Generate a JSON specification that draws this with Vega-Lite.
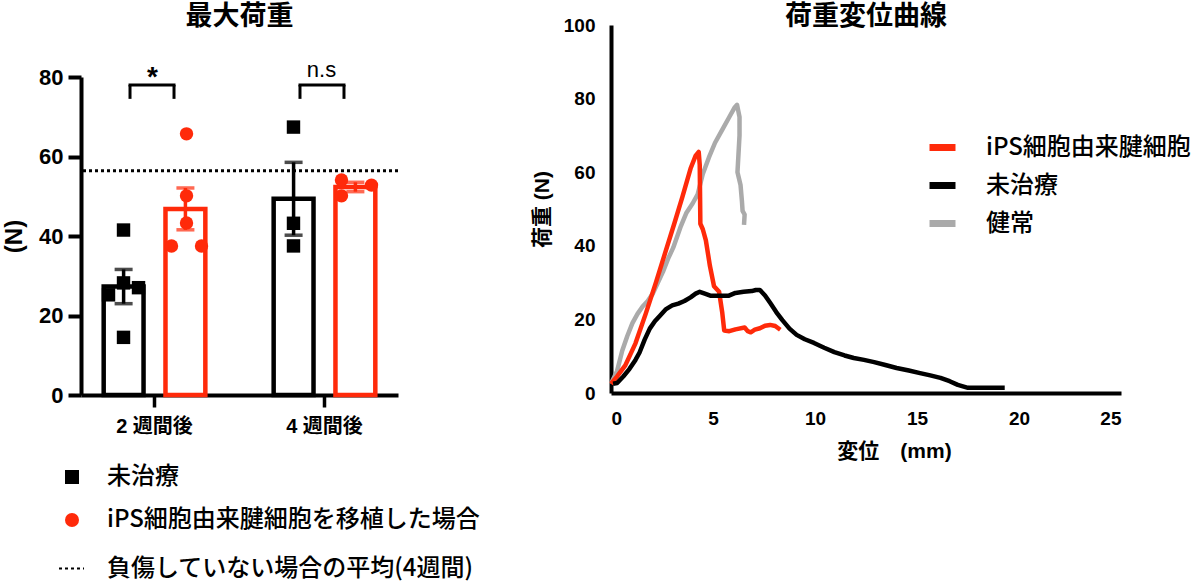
{
  "$schema": "https://vega.github.io/schema/vega-lite/v6.json",
  "background": "white",
  "padding": {"left": 2, "top": 3, "right": 0, "bottom": 0},
  "config": {
    "view": {"stroke": null},
    "font": "Liberation Sans, Noto Sans CJK JP",
    "title": {"fontSize": 27, "fontWeight": "bold", "font": "Noto Sans CJK JP", "color": "black"},
    "axis": {"domainColor": "black", "domainWidth": 4, "tickColor": "black", "tickWidth": 4, "labelColor": "black", "titleColor": "black", "grid": false, "labelFont": "Liberation Sans, Noto Sans CJK JP", "labelFontWeight": "bold", "titleFont": "Liberation Sans, Noto Sans CJK JP", "titleFontWeight": "bold"},
    "legend": {"labelFont": "Noto Sans CJK JP", "labelFontWeight": 500, "labelFontSize": 24, "labelColor": "black", "padding": 0, "labelLimit": 800, "title": null}
  },
  "resolve": {
    "scale": {"color": "independent", "shape": "independent", "strokeDash": "independent"},
    "legend": {"color": "independent", "shape": "independent", "strokeDash": "independent"}
  },
  "datasets": {
    "maxload": [
      {"week": "2 週間後", "series": "未治療", "col": "C", "value": 41.5},
      {"week": "2 週間後", "series": "未治療", "col": "C", "value": 14.5},
      {"week": "2 週間後", "series": "未治療", "col": "L", "value": 25.2},
      {"week": "2 週間後", "series": "未治療", "col": "C", "value": 28.2},
      {"week": "2 週間後", "series": "未治療", "col": "R", "value": 27.0},
      {"week": "2 週間後", "series": "iPS細胞由来腱細胞を移植した場合", "col": "C", "value": 65.7},
      {"week": "2 週間後", "series": "iPS細胞由来腱細胞を移植した場合", "col": "C", "value": 50.1},
      {"week": "2 週間後", "series": "iPS細胞由来腱細胞を移植した場合", "col": "C", "value": 43.3},
      {"week": "2 週間後", "series": "iPS細胞由来腱細胞を移植した場合", "col": "L", "value": 37.5},
      {"week": "2 週間後", "series": "iPS細胞由来腱細胞を移植した場合", "col": "R", "value": 37.5},
      {"week": "4 週間後", "series": "未治療", "col": "C", "value": 67.4},
      {"week": "4 週間後", "series": "未治療", "col": "C", "value": 43.2},
      {"week": "4 週間後", "series": "未治療", "col": "C", "value": 37.5},
      {"week": "4 週間後", "series": "iPS細胞由来腱細胞を移植した場合", "col": "L", "value": 54.1},
      {"week": "4 週間後", "series": "iPS細胞由来腱細胞を移植した場合", "col": "L", "value": 50.1},
      {"week": "4 週間後", "series": "iPS細胞由来腱細胞を移植した場合", "col": "R", "value": 52.8}
    ],
    "reference": [{"label": "負傷していない場合の平均(4週間)", "value": 56.4}],
    "brackets": [
      {"week": "2 週間後", "low": 74.5, "high": 78},
      {"week": "4 週間後", "low": 74.5, "high": 78}
    ],
    "stars": [{"week": "2 週間後", "label": "*", "y": 77.7}],
    "ns": [{"week": "4 週間後", "label": "n.s", "y": 80.1}],
    "curves": [
      {"series": "健常", "i": 1, "x": 0, "y": 2.5},
      {"series": "健常", "i": 2, "x": 0.3, "y": 6},
      {"series": "健常", "i": 3, "x": 0.55, "y": 11.5},
      {"series": "健常", "i": 4, "x": 0.8, "y": 15.5},
      {"series": "健常", "i": 5, "x": 1.05, "y": 19},
      {"series": "健常", "i": 6, "x": 1.3, "y": 21.5},
      {"series": "健常", "i": 7, "x": 1.55, "y": 23.5},
      {"series": "健常", "i": 8, "x": 1.8, "y": 25},
      {"series": "健常", "i": 9, "x": 2.05, "y": 27},
      {"series": "健常", "i": 10, "x": 2.3, "y": 30},
      {"series": "健常", "i": 11, "x": 2.55, "y": 33},
      {"series": "健常", "i": 12, "x": 2.8, "y": 36.5},
      {"series": "健常", "i": 13, "x": 3.05, "y": 39.5},
      {"series": "健常", "i": 14, "x": 3.4, "y": 45},
      {"series": "健常", "i": 15, "x": 3.7, "y": 49},
      {"series": "健常", "i": 16, "x": 4.0, "y": 51.5},
      {"series": "健常", "i": 17, "x": 4.25, "y": 54},
      {"series": "健常", "i": 18, "x": 4.5, "y": 59.5},
      {"series": "健常", "i": 19, "x": 4.8, "y": 64},
      {"series": "健常", "i": 20, "x": 5.1, "y": 68},
      {"series": "健常", "i": 21, "x": 5.45, "y": 71.5},
      {"series": "健常", "i": 22, "x": 5.8, "y": 75},
      {"series": "健常", "i": 23, "x": 6.05, "y": 77.5},
      {"series": "健常", "i": 24, "x": 6.18, "y": 78.3},
      {"series": "健常", "i": 25, "x": 6.3, "y": 75},
      {"series": "健常", "i": 26, "x": 6.3, "y": 70},
      {"series": "健常", "i": 27, "x": 6.2, "y": 60},
      {"series": "健常", "i": 28, "x": 6.35, "y": 56.5},
      {"series": "健常", "i": 29, "x": 6.42, "y": 52},
      {"series": "健常", "i": 30, "x": 6.45, "y": 49.5},
      {"series": "健常", "i": 31, "x": 6.55, "y": 48.5},
      {"series": "健常", "i": 32, "x": 6.52, "y": 45.7},
      {"series": "iPS細胞由来腱細胞", "i": 1, "x": 0, "y": 2.5},
      {"series": "iPS細胞由来腱細胞", "i": 2, "x": 0.3, "y": 4.5},
      {"series": "iPS細胞由来腱細胞", "i": 3, "x": 0.7, "y": 7.5},
      {"series": "iPS細胞由来腱細胞", "i": 4, "x": 1.2, "y": 13.5},
      {"series": "iPS細胞由来腱細胞", "i": 5, "x": 1.7, "y": 21.5},
      {"series": "iPS細胞由来腱細胞", "i": 6, "x": 2.2, "y": 30},
      {"series": "iPS細胞由来腱細胞", "i": 7, "x": 2.65, "y": 38},
      {"series": "iPS細胞由来腱細胞", "i": 8, "x": 3.1, "y": 46},
      {"series": "iPS細胞由来腱細胞", "i": 9, "x": 3.5, "y": 53.3},
      {"series": "iPS細胞由来腱細胞", "i": 10, "x": 3.9, "y": 61},
      {"series": "iPS細胞由来腱細胞", "i": 11, "x": 4.15, "y": 64.5},
      {"series": "iPS細胞由来腱細胞", "i": 12, "x": 4.3, "y": 65.5},
      {"series": "iPS細胞由来腱細胞", "i": 13, "x": 4.35, "y": 62},
      {"series": "iPS細胞由来腱細胞", "i": 14, "x": 4.38, "y": 46},
      {"series": "iPS細胞由来腱細胞", "i": 15, "x": 4.5, "y": 44.5},
      {"series": "iPS細胞由来腱細胞", "i": 16, "x": 4.65, "y": 41.5},
      {"series": "iPS細胞由来腱細胞", "i": 17, "x": 4.85, "y": 34.5},
      {"series": "iPS細胞由来腱細胞", "i": 18, "x": 5.05, "y": 29},
      {"series": "iPS細胞由来腱細胞", "i": 19, "x": 5.3, "y": 27.5},
      {"series": "iPS細胞由来腱細胞", "i": 20, "x": 5.45, "y": 22},
      {"series": "iPS細胞由来腱細胞", "i": 21, "x": 5.55, "y": 17},
      {"series": "iPS細胞由来腱細胞", "i": 22, "x": 5.8, "y": 16.8},
      {"series": "iPS細胞由来腱細胞", "i": 23, "x": 6.1, "y": 17.3},
      {"series": "iPS細胞由来腱細胞", "i": 24, "x": 6.55, "y": 17.8},
      {"series": "iPS細胞由来腱細胞", "i": 25, "x": 6.7, "y": 16.8},
      {"series": "iPS細胞由来腱細胞", "i": 26, "x": 6.85, "y": 16.5},
      {"series": "iPS細胞由来腱細胞", "i": 27, "x": 7.05, "y": 17.2},
      {"series": "iPS細胞由来腱細胞", "i": 28, "x": 7.3, "y": 17.6},
      {"series": "iPS細胞由来腱細胞", "i": 29, "x": 7.55, "y": 18.3},
      {"series": "iPS細胞由来腱細胞", "i": 30, "x": 7.8, "y": 18.5},
      {"series": "iPS細胞由来腱細胞", "i": 31, "x": 8.05, "y": 18.2},
      {"series": "iPS細胞由来腱細胞", "i": 32, "x": 8.3, "y": 17.2},
      {"series": "未治療", "i": 1, "x": 0.1, "y": 2.5},
      {"series": "未治療", "i": 2, "x": 0.3, "y": 2.7},
      {"series": "未治療", "i": 3, "x": 0.6, "y": 4.5},
      {"series": "未治療", "i": 4, "x": 0.9, "y": 6.5},
      {"series": "未治療", "i": 5, "x": 1.2, "y": 9},
      {"series": "未治療", "i": 6, "x": 1.4, "y": 11},
      {"series": "未治療", "i": 7, "x": 1.65, "y": 14.5},
      {"series": "未治療", "i": 8, "x": 1.9, "y": 17.5},
      {"series": "未治療", "i": 9, "x": 2.15, "y": 19.5},
      {"series": "未治療", "i": 10, "x": 2.4, "y": 21},
      {"series": "未治療", "i": 11, "x": 2.7, "y": 22.8},
      {"series": "未治療", "i": 12, "x": 3.0, "y": 23.8},
      {"series": "未治療", "i": 13, "x": 3.3, "y": 24.3},
      {"series": "未治療", "i": 14, "x": 3.6, "y": 25},
      {"series": "未治療", "i": 15, "x": 3.9, "y": 26},
      {"series": "未治療", "i": 16, "x": 4.15, "y": 27},
      {"series": "未治療", "i": 17, "x": 4.35, "y": 27.5},
      {"series": "未治療", "i": 18, "x": 4.6, "y": 27},
      {"series": "未治療", "i": 19, "x": 4.9, "y": 26.4},
      {"series": "未治療", "i": 20, "x": 5.3, "y": 26.4},
      {"series": "未治療", "i": 21, "x": 5.75, "y": 26.4},
      {"series": "未治療", "i": 22, "x": 6.1, "y": 27.2},
      {"series": "未治療", "i": 23, "x": 6.5, "y": 27.5},
      {"series": "未治療", "i": 24, "x": 6.9, "y": 27.7},
      {"series": "未治療", "i": 25, "x": 7.1, "y": 28},
      {"series": "未治療", "i": 26, "x": 7.3, "y": 28},
      {"series": "未治療", "i": 27, "x": 7.55, "y": 26.5},
      {"series": "未治療", "i": 28, "x": 7.8, "y": 24.5},
      {"series": "未治療", "i": 29, "x": 8.1, "y": 22},
      {"series": "未治療", "i": 30, "x": 8.4, "y": 19.8},
      {"series": "未治療", "i": 31, "x": 8.75, "y": 17.5},
      {"series": "未治療", "i": 32, "x": 9.1, "y": 15.8},
      {"series": "未治療", "i": 33, "x": 9.5, "y": 14.6},
      {"series": "未治療", "i": 34, "x": 9.95, "y": 13.6},
      {"series": "未治療", "i": 35, "x": 10.45, "y": 12.3},
      {"series": "未治療", "i": 36, "x": 10.95, "y": 11.1},
      {"series": "未治療", "i": 37, "x": 11.45, "y": 10.2},
      {"series": "未治療", "i": 38, "x": 11.9, "y": 9.5},
      {"series": "未治療", "i": 39, "x": 12.4, "y": 9},
      {"series": "未治療", "i": 40, "x": 12.9, "y": 8.4},
      {"series": "未治療", "i": 41, "x": 13.45, "y": 7.6},
      {"series": "未治療", "i": 42, "x": 14.0, "y": 6.8},
      {"series": "未治療", "i": 43, "x": 14.6, "y": 6.1},
      {"series": "未治療", "i": 44, "x": 15.15, "y": 5.4},
      {"series": "未治療", "i": 45, "x": 15.65, "y": 4.8},
      {"series": "未治療", "i": 46, "x": 16.15, "y": 4.1},
      {"series": "未治療", "i": 47, "x": 16.6, "y": 3.2},
      {"series": "未治療", "i": 48, "x": 17.0, "y": 2.2},
      {"series": "未治療", "i": 49, "x": 17.5, "y": 1.4},
      {"series": "未治療", "i": 50, "x": 18.5, "y": 1.4},
      {"series": "未治療", "i": 51, "x": 19.3, "y": 1.4}
    ]
  },
  "spacing": 51,
  "hconcat": [
    {
      "width": 317,
      "height": 370,
      "title": {"text": "最大荷重", "offset": -6},
      "layer": [
        {
          "data": {"name": "maxload"},
          "transform": [{"filter": "datum.series === '未治療'"}],
          "mark": {"type": "bar", "fill": "white", "stroke": "#000000", "strokeWidth": 4.5},
          "encoding": {
            "x": {"field": "week", "type": "nominal", "title": null, "scale": {"paddingInner": 0.135, "paddingOuter": 0},
                  "axis": {"labelAngle": 0, "labelFontSize": 20, "tickSize": 12, "tickWidth": 3.5, "labelPadding": 9}},
            "xOffset": {"field": "series", "type": "nominal", "scale": {"domain": ["未治療", "iPS細胞由来腱細胞を移植した場合"], "paddingInner": 0.355, "paddingOuter": 0.367}},
            "y": {"aggregate": "mean", "field": "value", "type": "quantitative", "title": "(N)",
                  "scale": {"domain": [0, 80], "range": [370, 52], "nice": false},
                  "axis": {"values": [0, 20, 40, 60, 80], "labelFontSize": 22, "tickSize": 13, "labelPadding": 5, "titleFontSize": 24, "titlePadding": 12}}
          }
        },
        {
          "data": {"name": "maxload"},
          "transform": [{"filter": "datum.series !== '未治療'"}],
          "mark": {"type": "bar", "fill": "white", "stroke": "#ff2a0a", "strokeWidth": 4.5},
          "encoding": {
            "x": {"field": "week", "type": "nominal", "title": null},
            "xOffset": {"field": "series", "type": "nominal"},
            "y": {"aggregate": "mean", "field": "value", "type": "quantitative", "title": "(N)"}
          }
        },
        {
          "data": {"name": "reference"},
          "mark": {"type": "rule", "strokeWidth": 3, "color": "black"},
          "encoding": {
            "y": {"field": "value", "type": "quantitative", "title": "(N)"},
            "strokeDash": {"field": "label", "type": "nominal", "scale": {"range": [[3, 3]]},
              "legend": {"orient": "none", "legendX": -23, "legendY": 530, "symbolType": "stroke", "symbolSize": 625, "symbolStrokeWidth": 2, "symbolStrokeColor": "black", "labelOffset": 22}}
          }
        },
        {
          "data": {"name": "maxload"},
          "transform": [{"filter": "datum.series === '未治療'"}],
          "mark": {"type": "errorbar", "extent": "stderr", "ticks": {"size": 18, "thickness": 3.5, "color": "#000000"}, "rule": {"strokeWidth": 3.5, "color": "#000000"}},
          "encoding": {
            "x": {"field": "week", "type": "nominal", "title": null},
            "xOffset": {"field": "series", "type": "nominal"},
            "y": {"field": "value", "type": "quantitative", "title": "(N)"}
          }
        },
        {
          "data": {"name": "maxload"},
          "transform": [{"filter": "datum.series !== '未治療'"}],
          "mark": {"type": "errorbar", "extent": "stderr", "ticks": {"size": 18, "thickness": 3.5, "color": "#ff2a0a"}, "rule": {"strokeWidth": 3.5, "color": "#ff2a0a"}},
          "encoding": {
            "x": {"field": "week", "type": "nominal", "title": null},
            "xOffset": {"field": "series", "type": "nominal"},
            "y": {"field": "value", "type": "quantitative", "title": "(N)"}
          }
        },
        {
          "data": {"name": "maxload"},
          "transform": [{"filter": "datum.series === '未治療' && datum.col === 'L'"}],
          "mark": {"type": "point", "filled": true, "opacity": 1, "size": 180, "xOffset": -46},
          "encoding": {
            "x": {"field": "week", "type": "nominal", "title": null},
            "y": {"field": "value", "type": "quantitative", "title": "(N)"},
            "color": {"field": "series", "type": "nominal", "scale": {"domain": ["未治療", "iPS細胞由来腱細胞を移植した場合"], "range": ["#000000", "#ff2a0a"]},
              "legend": {"orient": "none", "legendX": -21, "legendY": 440, "symbolSize": 196, "symbolStrokeWidth": 0, "labelOffset": 23, "rowPadding": 19}},
            "shape": {"field": "series", "type": "nominal", "scale": {"domain": ["未治療", "iPS細胞由来腱細胞を移植した場合"], "range": ["square", "circle"]},
              "legend": {"orient": "none", "legendX": -21, "legendY": 440, "symbolSize": 196, "symbolStrokeWidth": 0, "labelOffset": 23, "rowPadding": 19}}
          }
        },
        {
          "data": {"name": "maxload"},
          "transform": [{"filter": "datum.series === '未治療' && datum.col === 'C'"}],
          "mark": {"type": "point", "filled": true, "opacity": 1, "size": 180, "xOffset": -31},
          "encoding": {
            "x": {"field": "week", "type": "nominal", "title": null},
            "y": {"field": "value", "type": "quantitative", "title": "(N)"},
            "color": {"field": "series", "type": "nominal",
              "legend": {"orient": "none", "legendX": -21, "legendY": 440, "symbolSize": 196, "symbolStrokeWidth": 0, "labelOffset": 23, "rowPadding": 19}},
            "shape": {"field": "series", "type": "nominal",
              "legend": {"orient": "none", "legendX": -21, "legendY": 440, "symbolSize": 196, "symbolStrokeWidth": 0, "labelOffset": 23, "rowPadding": 19}}
          }
        },
        {
          "data": {"name": "maxload"},
          "transform": [{"filter": "datum.series === '未治療' && datum.col === 'R'"}],
          "mark": {"type": "point", "filled": true, "opacity": 1, "size": 180, "xOffset": -16},
          "encoding": {
            "x": {"field": "week", "type": "nominal", "title": null},
            "y": {"field": "value", "type": "quantitative", "title": "(N)"},
            "color": {"field": "series", "type": "nominal",
              "legend": {"orient": "none", "legendX": -21, "legendY": 440, "symbolSize": 196, "symbolStrokeWidth": 0, "labelOffset": 23, "rowPadding": 19}},
            "shape": {"field": "series", "type": "nominal",
              "legend": {"orient": "none", "legendX": -21, "legendY": 440, "symbolSize": 196, "symbolStrokeWidth": 0, "labelOffset": 23, "rowPadding": 19}}
          }
        },
        {
          "data": {"name": "maxload"},
          "transform": [{"filter": "datum.series !== '未治療' && datum.col === 'L'"}],
          "mark": {"type": "point", "filled": true, "opacity": 1, "size": 180, "xOffset": 17},
          "encoding": {
            "x": {"field": "week", "type": "nominal", "title": null},
            "y": {"field": "value", "type": "quantitative", "title": "(N)"},
            "color": {"field": "series", "type": "nominal",
              "legend": {"orient": "none", "legendX": -21, "legendY": 440, "symbolSize": 196, "symbolStrokeWidth": 0, "labelOffset": 23, "rowPadding": 19}},
            "shape": {"field": "series", "type": "nominal",
              "legend": {"orient": "none", "legendX": -21, "legendY": 440, "symbolSize": 196, "symbolStrokeWidth": 0, "labelOffset": 23, "rowPadding": 19}}
          }
        },
        {
          "data": {"name": "maxload"},
          "transform": [{"filter": "datum.series !== '未治療' && datum.col === 'C'"}],
          "mark": {"type": "point", "filled": true, "opacity": 1, "size": 180, "xOffset": 32},
          "encoding": {
            "x": {"field": "week", "type": "nominal", "title": null},
            "y": {"field": "value", "type": "quantitative", "title": "(N)"},
            "color": {"field": "series", "type": "nominal",
              "legend": {"orient": "none", "legendX": -21, "legendY": 440, "symbolSize": 196, "symbolStrokeWidth": 0, "labelOffset": 23, "rowPadding": 19}},
            "shape": {"field": "series", "type": "nominal",
              "legend": {"orient": "none", "legendX": -21, "legendY": 440, "symbolSize": 196, "symbolStrokeWidth": 0, "labelOffset": 23, "rowPadding": 19}}
          }
        },
        {
          "data": {"name": "maxload"},
          "transform": [{"filter": "datum.series !== '未治療' && datum.col === 'R'"}],
          "mark": {"type": "point", "filled": true, "opacity": 1, "size": 180, "xOffset": 47},
          "encoding": {
            "x": {"field": "week", "type": "nominal", "title": null},
            "y": {"field": "value", "type": "quantitative", "title": "(N)"},
            "color": {"field": "series", "type": "nominal",
              "legend": {"orient": "none", "legendX": -21, "legendY": 440, "symbolSize": 196, "symbolStrokeWidth": 0, "labelOffset": 23, "rowPadding": 19}},
            "shape": {"field": "series", "type": "nominal",
              "legend": {"orient": "none", "legendX": -21, "legendY": 440, "symbolSize": 196, "symbolStrokeWidth": 0, "labelOffset": 23, "rowPadding": 19}}
          }
        },
        {
          "data": {"name": "brackets"},
          "mark": {"type": "rule", "strokeWidth": 3, "color": "black", "xOffset": -24.5, "x2Offset": 19.5, "strokeCap": "square"},
          "encoding": {
            "x": {"field": "week", "type": "nominal", "title": null},
            "x2": {"field": "week"},
            "y": {"field": "high", "type": "quantitative", "title": "(N)"}
          }
        },
        {
          "data": {"name": "brackets"},
          "mark": {"type": "rule", "strokeWidth": 3, "color": "black", "xOffset": -24.5},
          "encoding": {
            "x": {"field": "week", "type": "nominal", "title": null},
            "y": {"field": "low", "type": "quantitative", "title": "(N)"},
            "y2": {"field": "high"}
          }
        },
        {
          "data": {"name": "brackets"},
          "mark": {"type": "rule", "strokeWidth": 3, "color": "black", "xOffset": 19.5},
          "encoding": {
            "x": {"field": "week", "type": "nominal", "title": null},
            "y": {"field": "low", "type": "quantitative", "title": "(N)"},
            "y2": {"field": "high"}
          }
        },
        {
          "data": {"name": "stars"},
          "mark": {"type": "text", "fontSize": 28, "fontWeight": "bold", "font": "Liberation Sans", "baseline": "alphabetic", "color": "black", "dx": -2},
          "encoding": {
            "x": {"field": "week", "type": "nominal", "title": null},
            "y": {"field": "y", "type": "quantitative", "title": "(N)"},
            "text": {"field": "label"}
          }
        },
        {
          "data": {"name": "ns"},
          "mark": {"type": "text", "fontSize": 22, "font": "Liberation Sans", "baseline": "alphabetic", "color": "black", "dx": -3},
          "encoding": {
            "x": {"field": "week", "type": "nominal", "title": null},
            "y": {"field": "y", "type": "quantitative", "title": "(N)"},
            "text": {"field": "label"}
          }
        }
      ]
    },
    {
      "width": 510,
      "height": 368,
      "title": {"text": "荷重変位曲線", "offset": -15},
      "data": {"name": "curves"},
      "mark": {"type": "line", "strokeWidth": 4.5, "strokeJoin": "round"},
      "encoding": {
        "x": {"field": "x", "type": "quantitative", "scale": {"domain": [0, 25], "nice": false},
              "axis": {"values": [0, 5, 10, 15, 20, 25], "tickSize": 0, "labelPadding": 16, "labelFontSize": 19, "title": "変位\u3000(mm)", "titleFontSize": 21, "titlePadding": 12, "titleX": 283}},
        "y": {"field": "y", "type": "quantitative", "scale": {"domain": [0, 100], "nice": false},
              "axis": {"values": [0, 20, 40, 60, 80, 100], "tickSize": 0, "labelPadding": 16, "labelFontSize": 19, "title": "荷重 (N)", "titleFontSize": 21, "titlePadding": 11}},
        "color": {"field": "series", "type": "nominal", "scale": {"domain": ["iPS細胞由来腱細胞", "未治療", "健常"], "range": ["#ff2a0a", "#000000", "#aaaaaa"]},
                  "legend": {"orient": "none", "legendX": 315, "legendY": 106, "symbolType": "stroke", "symbolSize": 676, "symbolStrokeWidth": 7, "labelOffset": 27, "rowPadding": 7}},
        "order": {"field": "i", "type": "quantitative"}
      }
    }
  ]
}
